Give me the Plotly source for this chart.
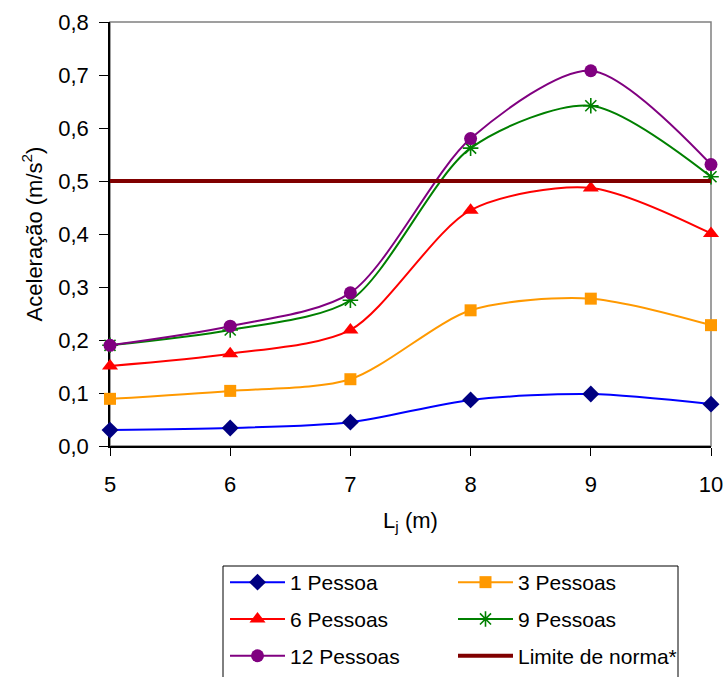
import plotly.graph_objects as go

x_vals = [5, 6, 7, 8, 9, 10]
p1 = [0.030, 0.034, 0.045, 0.087, 0.098, 0.079]
p3 = [0.089, 0.104, 0.126, 0.256, 0.278, 0.228]
p6 = [0.151, 0.174, 0.219, 0.445, 0.487, 0.401]
p9 = [0.190, 0.219, 0.275, 0.562, 0.642, 0.508]
p12 = [0.190, 0.226, 0.289, 0.580, 0.708, 0.531]
limit_x = [5, 10]
limit_y = [0.5, 0.5]

y_ticks = [0, 0.1, 0.2, 0.3, 0.4, 0.5, 0.6, 0.7, 0.8]
y_ticktext = ["0,0", "0,1", "0,2", "0,3", "0,4", "0,5", "0,6", "0,7", "0,8"]
x_ticks = [5, 6, 7, 8, 9, 10]

FONT = "Liberation Sans, Arial, sans-serif"
TICK_SIZE = 22
LEG_SIZE = 21

fig = go.Figure()

# (name, values, line colour, marker colour, symbol, size, legend column)
series = [
    ("1 Pessoa", p1, "#0000FF", "#000080", "diamond", 13, "legend"),
    ("3 Pessoas", p3, "#FF9900", "#FF9900", "square", 12, "legend2"),
    ("6 Pessoas", p6, "#FF0000", "#FF0000", "triangle-up", 14, "legend"),
    ("9 Pessoas", p9, "#008000", "#008000", "asterisk-open", 13, "legend2"),
    ("12 Pessoas", p12, "#800080", "#800080", "circle", 13, "legend"),
]

for name, ys, lc, mc, sym, sz, leg in series:
    marker = dict(symbol=sym, size=sz, color=mc)
    if sym == "asterisk-open":
        marker["line"] = dict(color=mc, width=1.6)
    else:
        marker["line"] = dict(width=0)
    fig.add_trace(go.Scatter(
        x=x_vals, y=ys, name=name, mode="lines+markers",
        line=dict(color=lc, width=2, shape="spline", smoothing=0.8),
        marker=marker, cliponaxis=False, legend=leg, legendgroup=name,
    ))

fig.add_trace(go.Scatter(
    x=limit_x, y=limit_y, name="Limite de norma*", mode="lines",
    line=dict(color="#800000", width=4), cliponaxis=False,
    legend="legend2", legendgroup="limite",
))

W, H = 726, 677
# plot area in page pixels
PL, PR, PT, PB = 110, 711, 22, 446
PW, PH = PR - PL, PB - PT

def px_x(p):
    return (p - PL) / PW

def px_y(p):
    return (PB - p) / PH

# gray frame around plot area
fig.add_shape(type="rect", xref="paper", yref="paper", x0=0, x1=1, y0=0, y1=1,
              line=dict(color="#808080", width=1.5), layer="below")
# legend box
fig.add_shape(type="rect", xref="paper", yref="paper",
              x0=px_x(223), x1=px_x(678), y0=px_y(566), y1=px_y(680),
              line=dict(color="black", width=1), fillcolor="rgba(0,0,0,0)", layer="below")

leg_common = dict(
    orientation="v", yanchor="top", xanchor="left",
    bgcolor="rgba(0,0,0,0)", borderwidth=0,
    font=dict(family=FONT, size=LEG_SIZE, color="black"),
    itemwidth=55, tracegroupgap=6.5,
)

fig.update_layout(
    width=W, height=H,
    margin=dict(l=PL, r=W - PR, t=PT, b=H - PB, autoexpand=False),
    paper_bgcolor="white", plot_bgcolor="white",
    font=dict(family=FONT, size=TICK_SIZE, color="black"),
    showlegend=True,
    legend=dict(x=px_x(225), y=px_y(562), **leg_common),
    legend2=dict(x=px_x(453), y=px_y(562), **leg_common),
)

fig.update_xaxes(
    range=[5, 10], tickvals=x_ticks, ticktext=[str(v) for v in x_ticks],
    showgrid=False, zeroline=False,
    showline=True, linecolor="black", linewidth=1.5,
    ticks="outside", ticklen=8, tickcolor="black", tickwidth=1,
    ticklabelstandoff=10,
    tickfont=dict(family=FONT, size=TICK_SIZE, color="black"),
    title=dict(text="L<sub>j</sub> (m)", font=dict(family=FONT, size=TICK_SIZE, color="black"), standoff=16),
    layer="below traces",
)
fig.update_yaxes(
    range=[0, 0.8], tickvals=y_ticks, ticktext=y_ticktext,
    showgrid=False, zeroline=False,
    showline=True, linecolor="black", linewidth=1.5,
    ticks="outside", ticklen=9, tickcolor="black", tickwidth=1,
    ticklabelstandoff=6,
    tickfont=dict(family=FONT, size=TICK_SIZE, color="black"),
    title=dict(text="Aceleração (m/s<sup>2</sup>)", font=dict(family=FONT, size=TICK_SIZE, color="black"), standoff=10),
    layer="below traces",
)

fig.write_html(
    "out.html",
    config={"displayModeBar": False},
    post_script="document.body.style.margin='0';document.body.style.overflow='hidden';",
)
